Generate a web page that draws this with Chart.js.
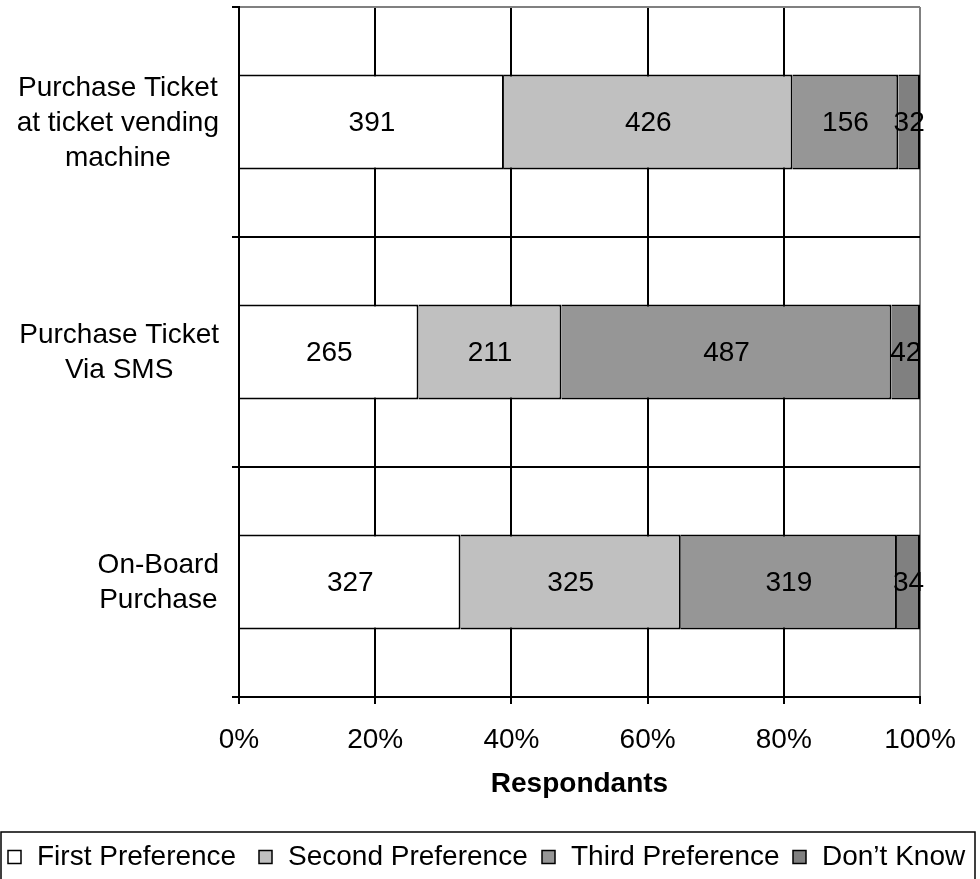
<!DOCTYPE html>
<html>
<head>
<meta charset="utf-8">
<script src="https://cdn.jsdelivr.net/npm/chart.js@4.4.0/dist/chart.umd.min.js"></script>
<style>
  html, body { margin: 0; padding: 0; background: #ffffff; }
  #wrap { width: 980px; height: 879px; }
  canvas { display: block; }
</style>
</head>
<body>
<div id="wrap"><canvas id="chart" width="980" height="879"></canvas></div>
<script>
// Survey: preferred way of buying a ticket (number of respondents per answer)
const categories = [
  ['Purchase Ticket', 'at ticket vending', 'machine'],
  ['Purchase Ticket', 'Via SMS'],
  ['On-Board', 'Purchase']
];
const seriesNames = ['First Preference', 'Second Preference', 'Third Preference', 'Don\u2019t Know'];
const firstPreference  = [391, 265, 327];
const secondPreference = [426, 211, 325];
const thirdPreference  = [156, 487, 319];
const dontKnow         = [32, 42, 34];
const seriesColors = ['#FFFFFF', '#C0C0C0', '#969696', '#808080'];
const percentTicks = [0, 20, 40, 60, 80, 100];

const FONT = '"Liberation Sans", Arial, Helvetica, sans-serif';
Chart.defaults.font.family = FONT;
Chart.defaults.color = '#000000';

const seriesCounts = [firstPreference, secondPreference, thirdPreference, dontKnow];
const totals = categories.map((_, i) => seriesCounts.reduce((s, arr) => s + arr[i], 0));

const datasets = seriesCounts.map((counts, k) => ({
  label: seriesNames[k],
  counts: counts,
  data: counts.map((v, i) => v / totals[i] * 100),
  backgroundColor: seriesColors[k],
  borderColor: '#000000',
  borderWidth: 2,
  barPercentage: 1,
  categoryPercentage: 0.413
}));

// Count printed in the middle of each segment
const segmentLabels = {
  id: 'segmentLabels',
  afterDatasetsDraw(chart) {
    const ctx = chart.ctx;
    ctx.save();
    ctx.font = '28px ' + FONT;
    ctx.fillStyle = '#000000';
    ctx.textAlign = 'center';
    ctx.textBaseline = 'middle';
    chart.data.datasets.forEach((ds, i) => {
      chart.getDatasetMeta(i).data.forEach((bar, j) => {
        ctx.fillText(String(ds.counts[j]), (bar.x + bar.base) / 2, bar.y + 1);
      });
    });
    ctx.restore();
  }
};

// Multi-line category names: block right-aligned, lines centred inside it
const categoryLabels = {
  id: 'categoryLabels',
  afterDraw(chart) {
    const ctx = chart.ctx;
    const yScale = chart.scales.y;
    const lineH = 35;
    ctx.save();
    ctx.font = '28px ' + FONT;
    ctx.fillStyle = '#000000';
    ctx.textAlign = 'center';
    ctx.textBaseline = 'middle';
    chart.data.labels.forEach((lines, i) => {
      const cy = yScale.getPixelForValue(i) + 1;
      const w = Math.max(...lines.map(l => ctx.measureText(l).width));
      const cx = yScale.right - 20 - w / 2;
      const start = cy - (lines.length - 1) * lineH / 2;
      lines.forEach((l, n) => ctx.fillText(l, cx, start + n * lineH));
    });
    ctx.restore();
  }
};

// Boxed legend along the bottom edge
const boxedLegend = {
  id: 'boxedLegend',
  afterDraw(chart) {
    const ctx = chart.ctx;
    const top = chart.height - 47;
    const cy = top + 25;
    const itemX = [8, 259, 542, 793];
    ctx.save();
    ctx.strokeStyle = '#000000';
    ctx.lineWidth = 1.5;
    ctx.strokeRect(1, top, 974, 80);
    ctx.font = '28px ' + FONT;
    ctx.textAlign = 'left';
    ctx.textBaseline = 'middle';
    chart.data.datasets.forEach((ds, i) => {
      const x = itemX[i];
      ctx.fillStyle = ds.backgroundColor;
      ctx.fillRect(x, cy - 6.5, 13, 13);
      ctx.lineWidth = 1.5;
      ctx.strokeStyle = '#000000';
      ctx.strokeRect(x, cy - 6.5, 13, 13);
      ctx.fillStyle = '#000000';
      ctx.fillText(ds.label, x + 29, cy);
    });
    ctx.restore();
  }
};

new Chart(document.getElementById('chart'), {
  type: 'bar',
  data: { labels: categories, datasets: datasets },
  options: {
    indexAxis: 'y',
    responsive: false,
    animation: false,
    devicePixelRatio: 1,
    layout: { padding: { top: 7, right: 60, bottom: 47, left: 0 } },
    plugins: {
      legend: { display: false },
      tooltip: { enabled: false }
    },
    scales: {
      x: {
        stacked: true,
        min: 0,
        max: 100,
        afterBuildTicks: s => { s.ticks = percentTicks.map(v => ({ value: v })); },
        ticks: {
          callback: v => v + '%',
          color: '#000000',
          font: { size: 28 },
          padding: 19,
          maxRotation: 0
        },
        grid: {
          color: c => (c.index === percentTicks.length - 1 ? '#808080' : '#000000'),
          lineWidth: 2,
          tickLength: 7,
          tickColor: '#000000',
          tickWidth: 2
        },
        border: { color: '#000000', width: 2 },
        title: {
          display: true,
          text: 'Respondants',
          color: '#000000',
          font: { size: 28, weight: 'bold' },
          padding: { top: 0, bottom: 31 }
        },
        afterFit: s => { s.height = 135; }
      },
      y: {
        stacked: true,
        ticks: { display: false },
        grid: {
          offset: true,
          color: c => (c.index === 0 ? '#808080' : '#000000'),
          lineWidth: 2,
          tickLength: 7,
          tickColor: '#000000',
          tickWidth: 2
        },
        border: { color: '#000000', width: 2 },
        afterFit: s => { s.width = 239; }
      }
    }
  },
  plugins: [segmentLabels, categoryLabels, boxedLegend]
});
</script>
</body>
</html>
